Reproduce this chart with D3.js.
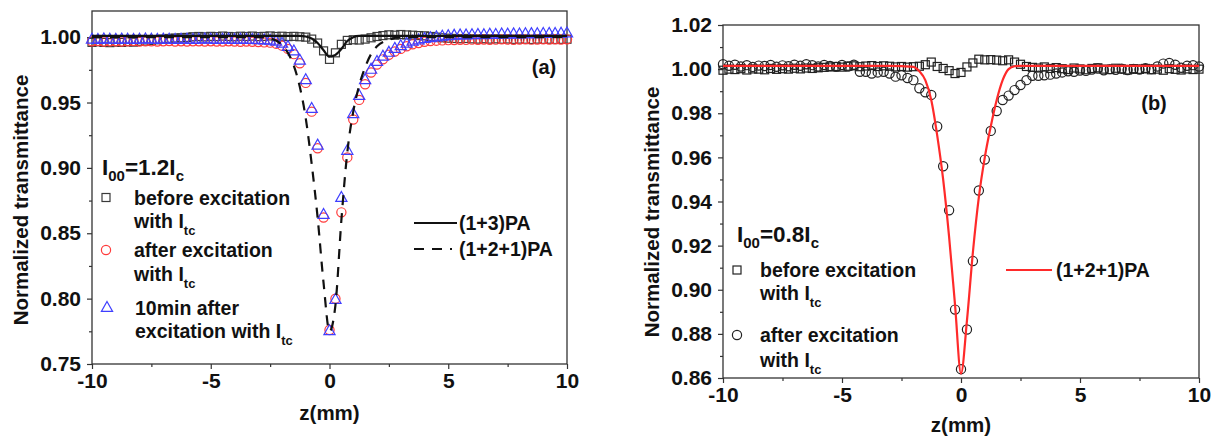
<!DOCTYPE html>
<html><head><meta charset="utf-8">
<script src="https://cdnjs.cloudflare.com/ajax/libs/d3/7.8.5/d3.min.js"></script>
<style>
html,body{margin:0;padding:0;background:#fff;}
svg{display:block;font-family:"Liberation Sans",Arial,sans-serif;font-weight:bold;}
</style></head>
<body><svg id="chart" width="1217" height="439"></svg>
<script>
// ---------- data ----------
const zGrid = [-10,-9.75,-9.5,-9.25,-9,-8.75,-8.5,-8.25,-8,-7.75,-7.5,-7.25,-7,-6.75,-6.5,-6.25,-6,-5.75,-5.5,-5.25,-5,-4.75,-4.5,-4.25,-4,-3.75,-3.5,-3.25,-3,-2.75,-2.5,-2.25,-2,-1.75,-1.5,-1.25,-1,-0.75,-0.5,-0.25,0,0.25,0.5,0.75,1,1.25,1.5,1.75,2,2.25,2.5,2.75,3,3.25,3.5,3.75,4,4.25,4.5,4.75,5,5.25,5.5,5.75,6,6.25,6.5,6.75,7,7.25,7.5,7.75,8,8.25,8.5,8.75,9,9.25,9.5,9.75,10];

// panel (a)
const aBefore = [0.996,0.9965,0.996,0.9958,0.9962,0.996,0.9965,0.9962,0.9968,
 0.997,0.9975,0.998,0.9985,0.999,0.9993,0.9995,0.9998,
 1.0003,1.0005,1.0002,1.0006,1.0004,1.0008,1.0005,1.0003,1.0007,1.0005,1.0008,1.0004,1.0006,1.0009,1.0005,1.0007,1.0004,1.0006,1.0003,
 1.0,0.9985,0.9955,0.9895,0.983,0.988,0.9945,0.9975,0.998,0.9978,0.9985,0.9995,1.0005,
 1.0012,1.0018,1.0015,1.002,1.0017,1.0015,1.0012,1.001,
 1.0005,1.0,0.9995,0.9992,0.999,0.9988,0.999,0.9987,0.9985,0.9988,0.9985,0.9987,0.9984,0.9986,0.9983,0.9985,0.9984,0.9982,0.9985,0.9983,0.9984,0.9982,0.9983,0.9984];
const aAfter = [0.9968,0.997,0.9966,0.9968,0.9969,0.9967,0.9968,0.997,0.9967,0.9968,0.9969,0.9966,0.9968,0.997,0.9967,0.9968,0.9966,0.9968,0.9969,0.9967,0.9968,0.9966,0.9967,0.9968,0.9966,0.9965,0.9966,0.9964,0.9962,0.996,0.9958,
 0.995,0.9935,0.991,0.987,0.98,0.965,0.943,0.915,0.862,0.776,0.80,0.866,0.908,0.937,0.952,0.964,0.973,0.979,0.983,0.9865,0.989,0.991,0.993,0.9945,0.9955,0.9965,
 0.997,0.9973,0.9975,0.9977,0.9978,0.998,0.9979,0.9981,0.998,0.9982,0.998,0.9981,0.9983,0.9982,0.998,0.9982,0.9983,0.9981,0.9982,0.9983,0.9982,0.9984,0.9982,0.9983];
const a10min = [0.998,0.9978,0.9982,0.998,0.9979,0.9981,0.998,0.9978,0.998,0.9982,0.998,0.9979,0.9981,0.998,0.9978,0.998,0.9981,0.9979,0.998,0.9982,0.998,0.9979,0.998,0.9981,0.9978,0.998,0.9979,0.9978,0.9976,0.9975,0.9972,
 0.9965,0.995,0.9925,0.989,0.982,0.967,0.945,0.917,0.864,0.775,0.799,0.877,0.913,0.941,0.955,0.967,0.975,0.981,0.985,0.988,0.991,0.993,0.995,0.9965,0.9975,0.9985,
 0.9992,0.9998,1.0003,1.0007,1.001,1.0013,1.0012,1.0015,1.0016,1.0015,1.0018,1.0017,1.002,1.0019,1.0021,1.002,1.0022,1.0023,1.0022,1.0024,1.0025,1.0024,1.0026,1.0028];
const fit13Z = [-10,-3,-1.5,-1.25,-1,-0.75,-0.5,-0.25,0,0.25,0.5,0.75,1,1.25,1.5,3,10];
const fit13T = [1.001,1.001,1.001,1.001,1.0005,0.999,0.9955,0.99,0.985,0.9865,0.991,0.997,1.0,1.001,1.001,1.001,1.001];
const fit121aZ = [-10,-3,-2.5,-2,-1.75,-1.5,-1.25,-1,-0.75,-0.5,-0.25,0,0.25,0.5,0.75,1,1.25,1.5,1.75,2,2.5,3,10];
const fit121aT = [1.0,1.0,0.999,0.994,0.988,0.978,0.962,0.938,0.903,0.862,0.812,0.775,0.795,0.86,0.912,0.943,0.963,0.977,0.987,0.993,0.998,1.0,1.0];

// panel (b)
const bBefore = [0.9995,1.0,0.9998,1.0002,0.9996,1.0001,1.0,0.9997,1.0003,0.9999,1.0002,1.0,1.0004,1.0001,1.0005,1.0003,1.0006,
 1.0008,1.001,1.0012,1.0009,1.0013,1.0015,1.0011,1.0014,1.0016,1.0012,1.0015,1.0013,1.001,1.0012,1.0009,1.0011,
 1.0013,1.002,1.0032,1.0012,1.0003,0.9993,0.998,0.9985,1.001,1.0028,1.0045,1.0042,1.0043,1.0041,1.0038,1.0042,1.0032,1.0022,1.0012,
 1.0008,1.0005,1.001,1.0003,1.0007,1.0002,0.9998,1.0005,1.0001,0.9997,1.0003,1.0006,1.0,0.9998,1.0004,1.0001,0.9996,1.0002,0.9999,1.0003,0.9997,1.0,0.9995,1.0002,0.9999,0.9996,1.0001,0.9998,1.0];
const bAfter = [1.0022,1.0015,1.002,1.0012,1.0018,1.001,1.0016,1.0014,1.0019,1.0011,1.0017,1.0013,1.002,1.0015,1.0022,1.0018,1.0012,1.0019,1.0014,
 1.001,1.0019,1.0012,1.002,
 0.9988,0.9988,0.998,0.9985,0.9988,0.998,0.9966,0.9972,0.996,0.995,
 0.9913,0.9895,0.9883,0.974,0.956,0.936,0.891,0.864,0.882,0.913,0.945,0.959,0.972,0.981,0.986,0.988,0.9905,0.9928,0.995,0.997,0.997,0.9972,0.9975,0.998,
 0.9985,0.999,0.9988,0.9994,0.9992,0.9998,1.0003,0.9995,1.0,0.9997,1.0002,0.9996,1.0001,0.9998,1.0004,1.0,1.0012,1.0025,1.0028,1.002,1.0006,1.0015,1.0018,1.0012];
const fit121bZ = [-10,-3,-2.5,-2,-1.75,-1.5,-1.25,-1,-0.75,-0.5,-0.25,0,0.25,0.5,0.75,1,1.25,1.5,1.75,2,2.25,2.5,3,10];
const fit121bT = [1.0015,1.0015,1.0014,1.001,0.999,0.995,0.986,0.970,0.950,0.924,0.893,0.862,0.886,0.917,0.942,0.960,0.974,0.986,0.995,1.0,1.0013,1.0015,1.0015,1.0015];

const xMajor = [-10,-5,0,5,10];
const xMinor = [-7.5,-2.5,2.5,7.5];
const aYMajor = [0.75,0.80,0.85,0.90,0.95,1.00];
const aYMinor = [0.775,0.825,0.875,0.925,0.975];
const bYMajor = [0.86,0.88,0.90,0.92,0.94,0.96,0.98,1.00,1.02];
const bYMinor = [0.87,0.89,0.91,0.93,0.95,0.97,0.99,1.01];

// ---------- drawing ----------
const svg = d3.select('#chart');
svg.append('rect').attr('width',1217).attr('height',439).attr('fill','#fff');
const AX = '#333';
const TICK_FS = 21, TITLE_FS = 20.5, LEG_FS = 19.5, SUB_FS = 13, BIG_FS = 22.5;

function drawFrame(x, y, yMajor, yMinor, labelX, labelY, xTitleY) {
  const g = svg.append('g');
  const [x0,x1] = x.range(), [y0,y1] = y.range();
  g.append('g').attr('transform',`translate(0,${y0})`)
    .call(d3.axisBottom(x).tickValues(xMajor).tickSize(5).tickSizeOuter(0).tickPadding(4).tickFormat(d=>String(d)));
  g.append('g').attr('transform',`translate(0,${y0})`)
    .call(d3.axisBottom(x).tickValues(xMinor).tickSize(3).tickSizeOuter(0).tickFormat(''));
  g.append('g').attr('transform',`translate(${x0},0)`)
    .call(d3.axisLeft(y).tickValues(yMajor).tickSize(5).tickSizeOuter(0).tickPadding(6).tickFormat(d=>d.toFixed(2)));
  g.append('g').attr('transform',`translate(${x0},0)`)
    .call(d3.axisLeft(y).tickValues(yMinor).tickSize(3).tickSizeOuter(0).tickFormat(''));
  g.selectAll('.domain').remove();
  g.selectAll('.tick line').attr('stroke',AX).attr('stroke-width',1.2);
  g.selectAll('.tick text').attr('fill','#111').style('font-size',TICK_FS+'px').style('font-weight','bold')
    .style('font-family','"Liberation Sans",Arial,sans-serif');
  g.append('rect').attr('x',x0).attr('y',y1).attr('width',x1-x0).attr('height',y0-y1)
    .attr('fill','none').attr('stroke',AX).attr('stroke-width',1.3);
  g.append('text').attr('transform',`translate(${labelX},${labelY}) rotate(-90)`)
    .attr('text-anchor','middle').attr('dominant-baseline','central')
    .style('font-size',TITLE_FS+'px').attr('fill','#111').text('Normalized transmittance');
  g.append('text').attr('x',(x0+x1)/2).attr('y',xTitleY).attr('text-anchor','middle')
    .attr('dominant-baseline','central').style('font-size',TITLE_FS+'px').attr('fill','#111').text('z(mm)');
}

function squares(x,y,vals,color){
  svg.append('g').selectAll('rect').data(vals).join('rect')
    .attr('x',(d,i)=>x(zGrid[i])-4).attr('y',d=>y(d)-4).attr('width',8).attr('height',8)
    .attr('fill','none').attr('stroke',color).attr('stroke-width',1.2);
}
function circles(x,y,vals,color){
  svg.append('g').selectAll('circle').data(vals).join('circle')
    .attr('cx',(d,i)=>x(zGrid[i])).attr('cy',d=>y(d)).attr('r',4.6)
    .attr('fill','none').attr('stroke',color).attr('stroke-width',1.2);
}
const triPath = 'M0,-6.5L5.6,3.4L-5.6,3.4Z';
function triangles(x,y,vals,color){
  svg.append('g').selectAll('path').data(vals).join('path')
    .attr('transform',(d,i)=>`translate(${x(zGrid[i])},${y(d)})`).attr('d',triPath)
    .attr('fill','none').attr('stroke',color).attr('stroke-width',1.2);
}
function fitLine(x,y,zs,ts,color,dash){
  const line = d3.line().x(d=>x(d[0])).y(d=>y(d[1])).curve(d3.curveMonotoneX);
  svg.append('path').datum(zs.map((z,i)=>[z,ts[i]])).attr('d',line)
    .attr('fill','none').attr('stroke',color).attr('stroke-width',2.2)
    .attr('stroke-dasharray',dash||null);
}
function label(xp,yp,parts,anchor){
  const t = svg.append('text').attr('x',xp).attr('y',yp).attr('fill','#111')
    .attr('dominant-baseline','central').attr('text-anchor',anchor||'start');
  parts.forEach(p=>{
    const s = t.append('tspan').text(p.t).style('font-size',(p.s||LEG_FS)+'px');
    if (p.dy) s.attr('dy',p.dy);
  });
  return t;
}
const withItc = [{t:'with I'},{t:'tc',s:SUB_FS,dy:9}];

// ----- panel (a) -----
const xA = d3.scaleLinear().domain([-10,10]).range([92,567]);
const yA = d3.scaleLinear().domain([0.75,1.02]).range([364,11]);
drawFrame(xA,yA,aYMajor,aYMinor,20,200,412);
squares(xA,yA,aBefore,'#3a3a3a');
circles(xA,yA,aAfter,'#ff3b3b');
triangles(xA,yA,a10min,'#3f3fff');
fitLine(xA,yA,fit13Z,fit13T,'#111');
fitLine(xA,yA,fit121aZ,fit121aT,'#111','10,8');

label(544,67,[{t:'(a)',s:20}],'middle');
label(102,167,[{t:'I',s:BIG_FS},{t:'00',s:15,dy:8},{t:'=1.2I',s:BIG_FS,dy:-8},{t:'c',s:15,dy:8}]);
svg.append('rect').attr('x',102).attr('y',193.5).attr('width',8).attr('height',8).attr('fill','none').attr('stroke','#3a3a3a').attr('stroke-width',1.2);
svg.append('circle').attr('cx',106).attr('cy',250).attr('r',4.6).attr('fill','none').attr('stroke','#ff3b3b').attr('stroke-width',1.2);
svg.append('path').attr('transform','translate(107,308)').attr('d',triPath).attr('fill','none').attr('stroke','#3f3fff').attr('stroke-width',1.2);
label(134,198,[{t:'before excitation'}]);
label(134,221,withItc);
label(134,250,[{t:'after excitation'}]);
label(134,274,withItc);
label(135,308,[{t:'10min after'}]);
label(135,331,[{t:'excitation with I'},{t:'tc',s:SUB_FS,dy:9}]);
svg.append('line').attr('x1',414).attr('x2',457).attr('y1',223).attr('y2',223).attr('stroke','#111').attr('stroke-width',2.2);
svg.append('line').attr('x1',414).attr('x2',452).attr('y1',249).attr('y2',249).attr('stroke','#111').attr('stroke-width',2.2).attr('stroke-dasharray','10,8');
label(459,223,[{t:'(1+3)PA'}]);
label(459,249,[{t:'(1+2+1)PA'}]);

// ----- panel (b) -----
const xB = d3.scaleLinear().domain([-10,10]).range([723,1199]);
const yB = d3.scaleLinear().domain([0.86,1.02]).range([378,25]);
drawFrame(xB,yB,bYMajor,bYMinor,651,212,424);
squares(xB,yB,bBefore,'#222');
circles(xB,yB,bAfter,'#222');
fitLine(xB,yB,fit121bZ,fit121bT,'#ff2a2a');

label(1154,103,[{t:'(b)',s:20}],'middle');
label(737,234,[{t:'I',s:BIG_FS},{t:'00',s:15,dy:8},{t:'=0.8I',s:BIG_FS,dy:-8},{t:'c',s:15,dy:8}]);
svg.append('rect').attr('x',733).attr('y',266).attr('width',8).attr('height',8).attr('fill','none').attr('stroke','#222').attr('stroke-width',1.2);
svg.append('circle').attr('cx',737).attr('cy',335).attr('r',4.6).attr('fill','none').attr('stroke','#222').attr('stroke-width',1.2);
label(760,270,[{t:'before excitation'}]);
label(760,293,withItc);
label(760,335,[{t:'after excitation'}]);
label(760,360,withItc);
svg.append('line').attr('x1',1006).attr('x2',1052).attr('y1',270).attr('y2',270).attr('stroke','#ff2a2a').attr('stroke-width',2.2);
label(1056,270,[{t:'(1+2+1)PA'}]);
</script></body></html>
